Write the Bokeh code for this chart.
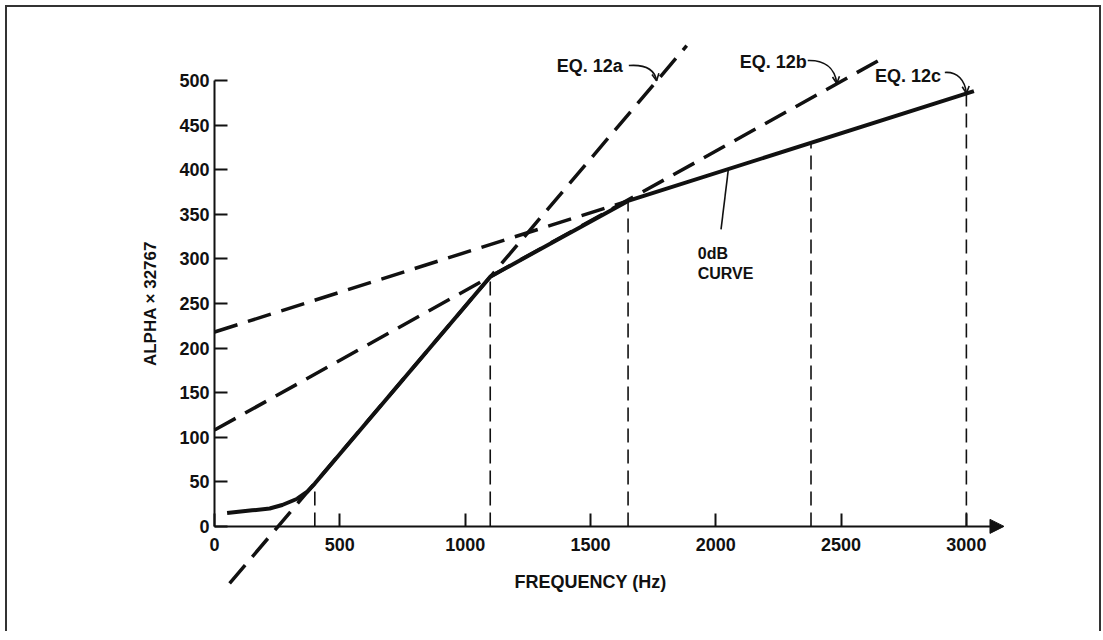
from bokeh.plotting import figure
from bokeh.models import FixedTicker, Arrow, NormalHead, OpenHead
from bokeh.embed import file_html
from bokeh.resources import INLINE
from bokeh.core.properties import value

# ---- data ----
freq_curve = [50, 150, 220, 270, 330, 370, 400, 1100, 1650, 3030]
alpha_curve = [15, 18, 20, 24, 31, 39, 48, 280, 365, 488]

eq12a_freq = [60, 1884]
eq12a_alpha = [-64, 539]
eq12b_freq = [0, 2660]
eq12b_alpha = [108, 524]
eq12c_freq = [0, 1650]
eq12c_alpha = [218, 365]

break_freq = [400, 1100, 1650, 2380, 3000]
break_alpha = [48, 280, 365, 430, 486]

x_ticks = [0, 500, 1000, 1500, 2000, 2500, 3000]
y_ticks = [0, 50, 100, 150, 200, 250, 300, 350, 400, 450, 500]

eq_labels = ["EQ. 12a", "EQ. 12b", "EQ. 12c"]
curve_label = ["0dB", "CURVE"]

# annotation anchors (data units)
eq_label_freq = [1365, 2096, 2635]
eq_label_alpha = [515.7, 521.3, 505.6]
leader_x0 = [1653, 2367, 2914]
leader_y0 = [516.8, 522.4, 509]
leader_cx0 = [1710, 2430, 2965]
leader_cy0 = [518, 523, 510]
leader_cx1 = [1755, 2475, 2995]
leader_cy1 = [514, 515, 500]
leader_x1 = [1764, 2483, 3000]
leader_y1 = [499.6, 496.6, 485.6]

curve_label_freq = [1928, 1928]
curve_label_alpha = [306, 283.6]
curve_leader_freq = [2021, 2050]
curve_leader_alpha = [333, 400]

FONT = "Liberation Sans"
INK = "#111111"

p = figure(frame_width=999, frame_height=580,
           x_range=(-786.4, 3200), y_range=(-82, 568.4),
           output_backend="svg", toolbar_location=None,
           min_border_left=10, min_border_right=83,
           min_border_top=12, min_border_bottom=32)
p.grid.visible = False
p.outline_line_color = None
p.styles = {"border-top": "2px solid #333", "border-left": "2px solid #333",
            "border-right": "2px solid #333",
            "margin-left": "5px", "margin-top": "5px"}

# axes (drawn at the data origin)
p.xaxis.fixed_location = 0
p.xaxis.bounds = (0, 3000)
p.xaxis.ticker = FixedTicker(ticks=x_ticks)
p.yaxis.fixed_location = 0
p.yaxis.bounds = (0, 500)
p.yaxis.ticker = FixedTicker(ticks=y_ticks)
for ax in (p.xaxis, p.yaxis):
    ax.axis_line_width = 2
    ax.axis_line_color = INK
    ax.major_tick_line_width = 2
    ax.major_tick_line_color = INK
    ax.major_tick_in = 13
    ax.major_tick_out = 0
    ax.minor_tick_line_color = None
    ax.major_label_text_font = FONT
    ax.major_label_text_font_style = "bold"
    ax.major_label_text_font_size = "18px"
    ax.major_label_text_color = INK
    ax.axis_label_text_font = FONT
    ax.axis_label_text_font_style = "bold"
    ax.axis_label_text_color = INK
p.xaxis.major_label_standoff = 12
p.yaxis.major_label_standoff = 5
p.xaxis.axis_label = "FREQUENCY (Hz)"
p.xaxis.axis_label_text_font_size = "18px"
p.xaxis.axis_label_standoff = 17
p.yaxis.axis_label = "ALPHA \u00d7 32767"
p.yaxis.axis_label_text_font_size = "17px"
p.yaxis.axis_label_standoff = 16

p.add_layout(Arrow(end=NormalHead(size=14, fill_color=INK, line_color=INK),
                   x_start=3000, y_start=0, x_end=3150, y_end=0,
                   line_width=2, line_color=INK))

# equation lines (dashed)
for fx, ay in ((eq12a_freq, eq12a_alpha), (eq12b_freq, eq12b_alpha), (eq12c_freq, eq12c_alpha)):
    p.line(fx, ay, line_color=INK, line_width=3.5, line_dash="24 11")

# vertical break lines
p.segment(x0=break_freq, y0=[0] * len(break_freq), x1=break_freq, y1=break_alpha,
          line_color=INK, line_width=1.6, line_dash="14 7")

# 0dB curve
p.line(freq_curve, alpha_curve, line_color=INK, line_width=4, line_join="round")

# labels
p.text(x=eq_label_freq, y=eq_label_alpha, text=eq_labels,
       text_font=value(FONT), text_font_style="bold", text_font_size="18px",
       text_align="left", text_baseline="middle", text_color=INK)
p.bezier(x0=leader_x0, y0=leader_y0, x1=leader_x1, y1=leader_y1,
         cx0=leader_cx0, cy0=leader_cy0, cx1=leader_cx1, cy1=leader_cy1,
         line_color=INK, line_width=1.6)
for i in range(3):
    p.add_layout(Arrow(end=OpenHead(size=7, line_width=1.6, line_color=INK),
                       x_start=leader_cx1[i], y_start=leader_cy1[i],
                       x_end=leader_x1[i], y_end=leader_y1[i],
                       line_alpha=0))

p.text(x=curve_label_freq, y=curve_label_alpha, text=curve_label,
       text_font=value(FONT), text_font_style="bold", text_font_size="16px",
       text_align="left", text_baseline="middle", text_color=INK)
p.line(curve_leader_freq, curve_leader_alpha, line_color=INK, line_width=1.6)

open("out.html", "w").write(file_html(p, INLINE))
